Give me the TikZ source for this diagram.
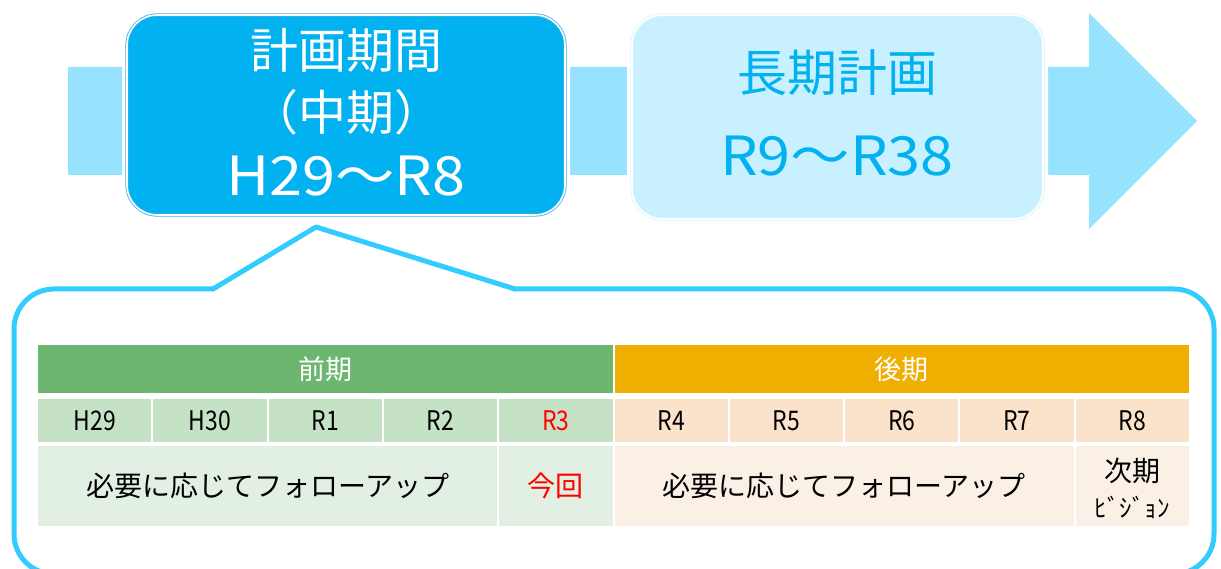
\documentclass[tikz,border=0pt]{standalone}
\usepackage{fontspec}
\setmainfont{Noto Sans CJK JP}
\newfontfamily\narrowfont[FakeStretch=0.85]{Noto Sans CJK JP}
\newfontfamily\widefont[FakeStretch=1.1]{Noto Sans CJK JP}
\definecolor{bandblue}{HTML}{97E2FD}
\definecolor{boxone}{HTML}{02B1F0}
\definecolor{boxoneline}{HTML}{3BB5E8}
\definecolor{boxtwo}{HTML}{C9F0FE}
\definecolor{boxtwoline}{HTML}{D8F4FE}
\definecolor{calloutblue}{HTML}{33CCFF}
\definecolor{greenhead}{HTML}{6CB66F}
\definecolor{greenyear}{HTML}{C5E2C7}
\definecolor{greenrow}{HTML}{E2F0E3}
\definecolor{orangehead}{HTML}{F0AE00}
\definecolor{orangeyear}{HTML}{FAE2CB}
\definecolor{orangerow}{HTML}{FBF0E6}
\begin{document}
\begin{tikzpicture}[x=1pt,y=-1pt,
  bigbox/.style={rounded corners=30pt, line width=0.8pt, double=white, double distance=1.6pt, inner sep=0pt},
  halo/.style={white, line width=10pt, rounded corners=30pt},
  callout/.style={calloutblue, line width=5pt, line cap=round, line join=round},
  cell/.style={draw=white, line width=2pt, inner sep=0pt, anchor=center},
  headtxt/.style={font=\fontsize{27}{27}\selectfont, text=white},
  yeartxt/.style={font=\narrowfont\fontsize{27}{27}\selectfont},
  rowtxt/.style={font=\fontsize{28}{28}\selectfont}]
\useasboundingbox (0,0) rectangle (1221,569);
% background band with arrow head
\fill[bandblue] (68,67) -- (1089,67) -- (1089,13) -- (1197,121) -- (1089,229) -- (1089,175) -- (68,175) -- cycle;
% boxes
\draw[halo] (127,15) rectangle (565,215);
\draw[halo] (632,15) rectangle (1043,219);
\node[bigbox, fill=boxone, draw=boxoneline, minimum width=438pt, minimum height=200pt] (b1) at (346,115) {};
\node[bigbox, fill=boxtwo, draw=boxtwoline, minimum width=411pt, minimum height=204pt] (b2) at (837.5,117) {};
\node[font=\fontsize{48}{48}\selectfont, text=white] (t1a) at (346,50) {計画期間};
\node[font=\fontsize{48}{48}\selectfont, text=white] (t1b) at (346,112) {（中期）};
\node[font=\widefont\fontsize{54}{54}\selectfont, text=white] (t1c) at (346,176) {H29～R8};
\node[font=\fontsize{50}{50}\selectfont, text=boxone] (t2a) at (837,73) {長期計画};
\node[font=\widefont\fontsize{54}{54}\selectfont, text=boxone] (t2b) at (837,156) {R9～R38};
% callout
\coordinate (pa) at (213,289);
\coordinate (pt) at (316,227);
\coordinate (pb) at (515,289);
\draw[callout, rounded corners=40pt] (pa) -- (14,289) -- (14,574) -- (1214,574) -- (1214,289) -- (pb);
\draw[callout] (pa) -- (pt) -- (pb);
% table header
\node[cell, fill=greenhead, minimum width=576.5pt, minimum height=50pt, headtxt] (zenki) at (325.25,369) {前期};
\node[cell, fill=orangehead, minimum width=576.5pt, minimum height=50pt, headtxt] (kouki) at (901.75,369) {後期};
% year row
\node[cell, fill=greenyear, minimum width=115.3pt, minimum height=45pt, yeartxt] (y1) at (94.65,420.5) {H29};
\node[cell, fill=greenyear, minimum width=115.3pt, minimum height=45pt, yeartxt] (y2) at (209.95,420.5) {H30};
\node[cell, fill=greenyear, minimum width=115.3pt, minimum height=45pt, yeartxt] (y3) at (325.25,420.5) {R1};
\node[cell, fill=greenyear, minimum width=115.3pt, minimum height=45pt, yeartxt] (y4) at (440.55,420.5) {R2};
\node[cell, fill=greenyear, minimum width=115.3pt, minimum height=45pt, yeartxt, text=red] (y5) at (555.85,420.5) {R3};
\node[cell, fill=orangeyear, minimum width=115.3pt, minimum height=45pt, yeartxt] (y6) at (671.15,420.5) {R4};
\node[cell, fill=orangeyear, minimum width=115.3pt, minimum height=45pt, yeartxt] (y7) at (786.45,420.5) {R5};
\node[cell, fill=orangeyear, minimum width=115.3pt, minimum height=45pt, yeartxt] (y8) at (901.75,420.5) {R6};
\node[cell, fill=orangeyear, minimum width=115.3pt, minimum height=45pt, yeartxt] (y9) at (1017.05,420.5) {R7};
\node[cell, fill=orangeyear, minimum width=115.3pt, minimum height=45pt, yeartxt] (y10) at (1132.35,420.5) {R8};
% bottom row
\node[cell, fill=greenrow, minimum width=461.2pt, minimum height=82pt, rowtxt] (f1) at (267.6,486) {必要に応じてフォローアップ};
\node[cell, fill=greenrow, minimum width=115.3pt, minimum height=82pt, rowtxt, text=red] (now) at (555.85,486) {今回};
\node[cell, fill=orangerow, minimum width=461.2pt, minimum height=82pt, rowtxt] (f2) at (844.1,486) {必要に応じてフォローアップ};
\node[cell, fill=orangerow, minimum width=115.3pt, minimum height=82pt] (next) at (1132.35,486) {};
\node[rowtxt] (nexta) at (1132.35,471) {次期};
\node[font=\fontsize{25}{25}\selectfont] (nextb) at (1132.35,507) {ﾋﾞｼﾞｮﾝ};
\end{tikzpicture}
\end{document}
